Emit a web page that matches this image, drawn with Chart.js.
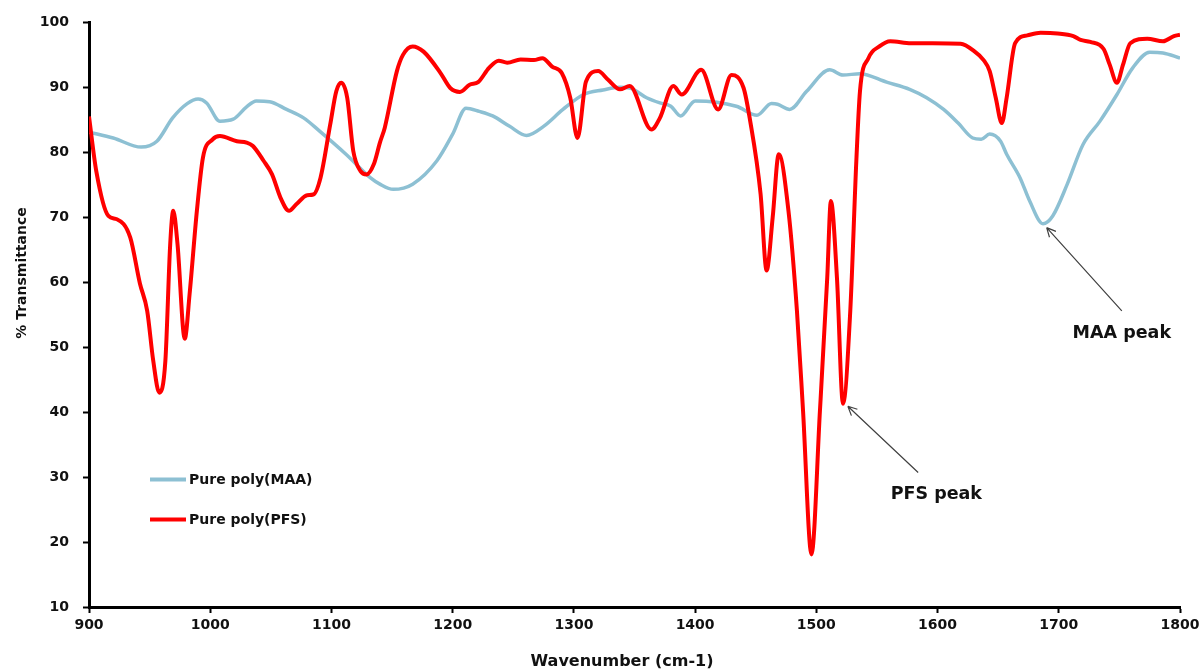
<!DOCTYPE html>
<html lang="en">
  <head>
    <meta charset="UTF-8" />
    <title>FTIR</title>
    <script src="https://cdn.jsdelivr.net/npm/chart.js"></script>
    <style>
      html, body { margin: 0; padding: 0; background: #fff; }
      #wrap { width: 1204px; height: 672px; }
    </style>
  </head>
  <body>
    <div id="wrap"><canvas id="myChart" width="1204" height="672"></canvas></div>

    <script>
      // Pure poly(MAA) - light blue trace
      const maaWave = [900, 920, 943, 956, 969, 981, 990, 997, 1008, 1019, 1030, 1038, 1049, 1063, 1077, 1090, 1112, 1132, 1140, 1151, 1167, 1187, 1200, 1211, 1222, 1233, 1247, 1261, 1275, 1291, 1308, 1324, 1338, 1346, 1360, 1371, 1380, 1388, 1400, 1434, 1451, 1463, 1468, 1478, 1492, 1511, 1522, 1536, 1558, 1577, 1591, 1605, 1617, 1629, 1636, 1643, 1652, 1657, 1668, 1676, 1687, 1695, 1707, 1720, 1734, 1748, 1761, 1775, 1786, 1800];
      const maaT = [83.1, 82.2, 80.8, 81.7, 85.3, 87.5, 88.2, 87.6, 84.8, 85.1, 87.0, 87.9, 87.8, 86.6, 85.3, 83.3, 79.7, 76.1, 75.1, 74.3, 75.1, 78.7, 82.8, 86.8, 86.3, 85.6, 84.0, 82.6, 84.0, 86.6, 88.9, 89.6, 90.0, 89.9, 88.4, 87.6, 87.1, 85.6, 87.9, 87.1, 85.7, 87.5, 87.4, 86.6, 89.4, 92.7, 91.9, 92.1, 90.8, 89.7, 88.4, 86.6, 84.5, 82.2, 82.0, 82.8, 81.7, 79.7, 76.1, 72.5, 69.0, 70.2, 75.1, 81.2, 84.8, 88.9, 93.0, 95.4, 95.3, 94.5];

      // Pure poly(PFS) - red trace
      const pfsWave = [900, 906, 916, 923, 934, 942, 948, 953, 958, 963, 967, 969.5, 973, 979, 983, 989, 994, 1002, 1008, 1022, 1030, 1035, 1044, 1051, 1058, 1065, 1071, 1080, 1085, 1091, 1099, 1104, 1108, 1113, 1118, 1124, 1129, 1135, 1140, 1144, 1154, 1159, 1167, 1176, 1190, 1198, 1206, 1214, 1221, 1230, 1238, 1245, 1256, 1267, 1274, 1282, 1290, 1297, 1303, 1310, 1320, 1328, 1338, 1346, 1364, 1371, 1382, 1389, 1405, 1419, 1430, 1440, 1445, 1454, 1459, 1464, 1469, 1477, 1484, 1489, 1496, 1503, 1509, 1512, 1517, 1522, 1528, 1533, 1536, 1543, 1552, 1561, 1578, 1596, 1619, 1630, 1638, 1643, 1648, 1653, 1657, 1664, 1674, 1685, 1699, 1712, 1718, 1726, 1737, 1742, 1748, 1753, 1759, 1773, 1786, 1795, 1800];
      const pfsT = [85.5, 77.1, 70.2, 69.7, 66.9, 59.8, 55.6, 47.9, 43.0, 47.9, 65.9, 71.0, 65.9, 51.3, 58.2, 71.0, 79.2, 82.0, 82.5, 81.7, 81.5, 81.0, 78.7, 76.6, 73.0, 71.0, 72.0, 73.4, 73.5, 76.1, 84.3, 89.4, 90.7, 88.4, 80.2, 77.1, 76.6, 78.2, 81.5, 83.8, 92.5, 95.0, 96.3, 95.5, 92.2, 89.9, 89.3, 90.4, 90.8, 93.0, 94.1, 93.8, 94.3, 94.2, 94.5, 93.2, 92.2, 88.4, 82.2, 90.9, 92.5, 91.2, 89.7, 90.2, 83.5, 85.3, 90.2, 88.9, 92.7, 86.6, 91.9, 89.9, 85.3, 73.6, 61.8, 70.0, 79.7, 71.0, 55.6, 40.3, 18.1, 40.3, 60.7, 72.5, 60.7, 41.3, 55.6, 78.7, 89.4, 94.5, 96.3, 97.1, 96.8, 96.8, 96.7, 95.6, 94.2, 92.5, 88.4, 84.5, 88.4, 96.8, 98.0, 98.4, 98.3, 97.9, 97.3, 97.0, 95.9, 93.5, 90.7, 93.5, 96.8, 97.5, 97.1, 97.9, 98.1];

      const seriesNames = ["Pure poly(MAA)", "Pure poly(PFS)"];
      const seriesColors = ["#8dc0d3", "#ff0000"];

      const xTicks = [900, 1000, 1100, 1200, 1300, 1400, 1500, 1600, 1700, 1800];
      const yTicks = [10, 20, 30, 40, 50, 60, 70, 80, 90, 100];

      const xTitle = "Wavenumber (cm-1)";
      const yTitle = "% Transmittance";

      // peak callouts: [label, arrow head (x,y), arrow tail (x,y), text (x,y)]
      const notes = [
        ["PFS peak", 1526, 40.9, 1584, 30.7, 1599, 27.4],
        ["MAA peak", 1690, 68.4, 1752, 55.6, 1752, 52.1],
      ];

      const toPoints = (xs, ys) => xs.map((x, i) => ({ x: x, y: ys[i] }));

      const FONT = "'DejaVu Sans', sans-serif";

      const extras = {
        id: "extras",
        afterDraw(chart) {
          const ctx = chart.ctx;
          const area = chart.chartArea;
          const sx = chart.scales.x;
          const sy = chart.scales.y;
          ctx.save();

          // axis titles
          ctx.fillStyle = "#111";
          ctx.font = "bold 16px " + FONT;
          ctx.textAlign = "center";
          ctx.textBaseline = "middle";
          ctx.fillText(xTitle, 622, 662);

          ctx.save();
          ctx.translate(22, 273);
          ctx.rotate(-Math.PI / 2);
          ctx.font = "bold 14px " + FONT;
          ctx.fillText(yTitle, 0, 0);
          ctx.restore();

          // legend
          ctx.font = "bold 14px " + FONT;
          ctx.textAlign = "left";
          seriesNames.forEach((name, i) => {
            const y = area.top + 457 + i * 40;
            ctx.strokeStyle = seriesColors[i];
            ctx.lineWidth = 4;
            ctx.beginPath();
            ctx.moveTo(area.left + 61, y);
            ctx.lineTo(area.left + 97, y);
            ctx.stroke();
            ctx.fillStyle = "#111";
            ctx.fillText(name, area.left + 100, y + 1);
          });

          // callouts
          notes.forEach((n) => {
            const hx = sx.getPixelForValue(n[1]);
            const hy = sy.getPixelForValue(n[2]);
            const tx = sx.getPixelForValue(n[3]);
            const ty = sy.getPixelForValue(n[4]);
            const ang = Math.atan2(hy - ty, hx - tx);
            ctx.strokeStyle = "#404040";
            ctx.lineWidth = 1.2;
            ctx.beginPath();
            ctx.moveTo(tx, ty);
            ctx.lineTo(hx, hy);
            for (const d of [-0.45, 0.45]) {
              ctx.moveTo(hx, hy);
              ctx.lineTo(hx - 10 * Math.cos(ang + d), hy - 10 * Math.sin(ang + d));
            }
            ctx.stroke();
            ctx.fillStyle = "#111";
            ctx.font = "bold 17.5px " + FONT;
            ctx.textAlign = "center";
            ctx.fillText(n[0], sx.getPixelForValue(n[5]), sy.getPixelForValue(n[6]));
          });

          ctx.restore();
        },
      };

      const data = {
        datasets: [
          {
            label: seriesNames[0],
            data: toPoints(maaWave, maaT),
            borderColor: seriesColors[0],
            borderWidth: 3.5,
            pointRadius: 0,
            cubicInterpolationMode: "monotone",
            order: 2,
          },
          {
            label: seriesNames[1],
            data: toPoints(pfsWave, pfsT),
            borderColor: seriesColors[1],
            borderWidth: 4,
            pointRadius: 0,
            cubicInterpolationMode: "monotone",
            order: 1,
          },
        ],
      };

      const tickFont = { family: FONT, size: 14, weight: "bold" };
      const plain = (v) => String(v);

      const config = {
        type: "line",
        data: data,
        options: {
          responsive: false,
          animation: false,
          layout: { padding: { top: 21, right: 24, left: 0, bottom: 0 } },
          plugins: { legend: { display: false }, tooltip: { enabled: false } },
          scales: {
            x: {
              type: "linear",
              min: 900,
              max: 1800,
              afterBuildTicks: (s) => { s.ticks = xTicks.map((v) => ({ value: v })); },
              afterFit: (s) => { s.height = 65; },
              ticks: { font: tickFont, color: "#111", padding: 4, maxRotation: 0, autoSkip: false, callback: plain },
              grid: { drawOnChartArea: false, drawTicks: true, tickLength: 6, tickWidth: 2, tickColor: "#000" },
              border: { color: "#000", width: 3 },
            },
            y: {
              min: 10,
              max: 100,
              afterBuildTicks: (s) => { s.ticks = yTicks.map((v) => ({ value: v })); },
              afterFit: (s) => { s.width = 89; },
              ticks: { font: tickFont, color: "#111", padding: 14, callback: plain },
              grid: { drawOnChartArea: false, drawTicks: true, tickLength: 6, tickWidth: 2, tickColor: "#000" },
              border: { color: "#000", width: 3 },
            },
          },
        },
        plugins: [extras],
      };

      const myChart = new Chart(document.getElementById("myChart"), config);
    </script>
  </body>
</html>
